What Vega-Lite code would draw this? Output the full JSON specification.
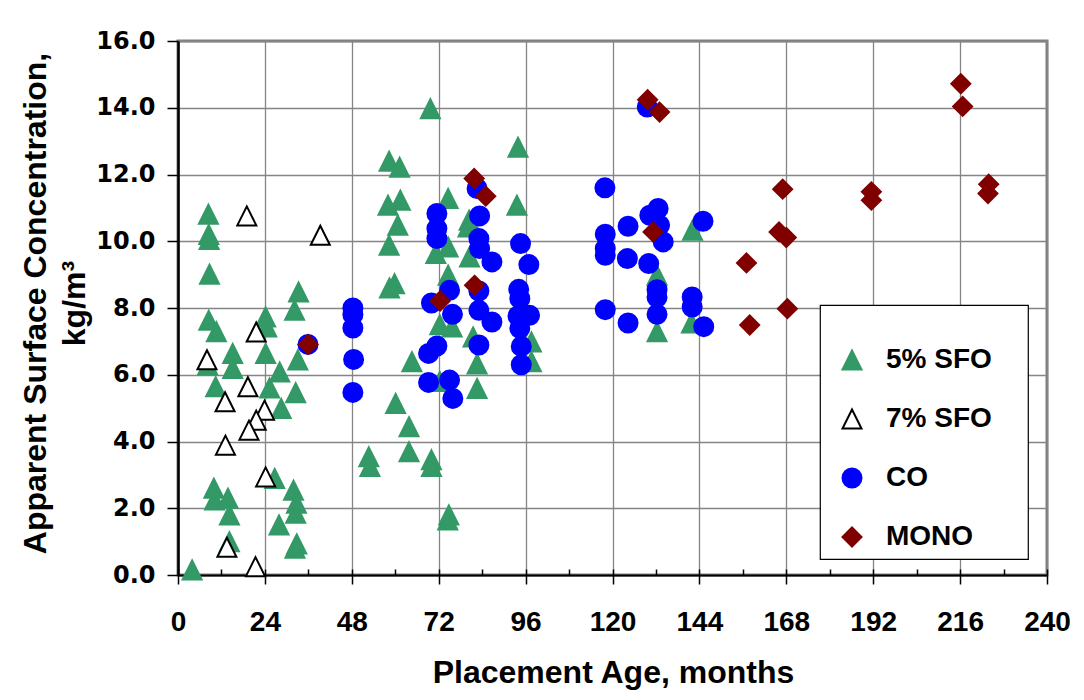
{
  "$schema": "https://vega.github.io/schema/vega-lite/v6.json",
  "width": 869,
  "height": 534,
  "autosize": {"type": "none"},
  "padding": {"left": 178, "top": 41, "right": 37, "bottom": 125},
  "background": "white",
  "data": {
    "values": [
      {"Series": "5% SFO", "Age": 3.9, "Conc": 0.15},
      {"Series": "5% SFO", "Age": 8.4, "Conc": 10.81},
      {"Series": "5% SFO", "Age": 8.5, "Conc": 10.2},
      {"Series": "5% SFO", "Age": 8.6, "Conc": 10.05},
      {"Series": "5% SFO", "Age": 8.7, "Conc": 9.01},
      {"Series": "5% SFO", "Age": 8.5, "Conc": 7.63},
      {"Series": "5% SFO", "Age": 10.6, "Conc": 7.29},
      {"Series": "5% SFO", "Age": 8.2, "Conc": 6.29},
      {"Series": "5% SFO", "Age": 10.4, "Conc": 5.64},
      {"Series": "5% SFO", "Age": 9.9, "Conc": 2.6},
      {"Series": "5% SFO", "Age": 10.1, "Conc": 2.25},
      {"Series": "5% SFO", "Age": 13.8, "Conc": 2.3},
      {"Series": "5% SFO", "Age": 14.2, "Conc": 1.8},
      {"Series": "5% SFO", "Age": 14.2, "Conc": 1.0},
      {"Series": "5% SFO", "Age": 15.1, "Conc": 6.64},
      {"Series": "5% SFO", "Age": 15.1, "Conc": 6.19},
      {"Series": "5% SFO", "Age": 24.2, "Conc": 7.73},
      {"Series": "5% SFO", "Age": 24.5, "Conc": 7.43},
      {"Series": "5% SFO", "Age": 24.2, "Conc": 6.64},
      {"Series": "5% SFO", "Age": 28.1, "Conc": 6.08},
      {"Series": "5% SFO", "Age": 25.3, "Conc": 5.6},
      {"Series": "5% SFO", "Age": 28.5, "Conc": 4.99},
      {"Series": "5% SFO", "Age": 32.5, "Conc": 5.46},
      {"Series": "5% SFO", "Age": 26.7, "Conc": 2.89},
      {"Series": "5% SFO", "Age": 31.9, "Conc": 2.54},
      {"Series": "5% SFO", "Age": 32.7, "Conc": 2.15},
      {"Series": "5% SFO", "Age": 32.5, "Conc": 1.85},
      {"Series": "5% SFO", "Age": 27.9, "Conc": 1.5},
      {"Series": "5% SFO", "Age": 32.8, "Conc": 0.93},
      {"Series": "5% SFO", "Age": 32.3, "Conc": 0.8},
      {"Series": "5% SFO", "Age": 33.3, "Conc": 8.48},
      {"Series": "5% SFO", "Age": 32.2, "Conc": 7.93},
      {"Series": "5% SFO", "Age": 33.1, "Conc": 6.44},
      {"Series": "5% SFO", "Age": 52.7, "Conc": 3.54},
      {"Series": "5% SFO", "Age": 53.0, "Conc": 3.25},
      {"Series": "5% SFO", "Age": 58.3, "Conc": 12.4},
      {"Series": "5% SFO", "Age": 61.2, "Conc": 12.22},
      {"Series": "5% SFO", "Age": 58.0, "Conc": 11.08},
      {"Series": "5% SFO", "Age": 61.4, "Conc": 11.23},
      {"Series": "5% SFO", "Age": 60.7, "Conc": 10.48},
      {"Series": "5% SFO", "Age": 58.3, "Conc": 9.88},
      {"Series": "5% SFO", "Age": 59.8, "Conc": 8.73},
      {"Series": "5% SFO", "Age": 58.4, "Conc": 8.6},
      {"Series": "5% SFO", "Age": 60.1, "Conc": 5.14},
      {"Series": "5% SFO", "Age": 63.8, "Conc": 4.44},
      {"Series": "5% SFO", "Age": 63.8, "Conc": 3.69},
      {"Series": "5% SFO", "Age": 64.6, "Conc": 6.39},
      {"Series": "5% SFO", "Age": 69.7, "Conc": 13.97},
      {"Series": "5% SFO", "Age": 70.0, "Conc": 3.45},
      {"Series": "5% SFO", "Age": 70.0, "Conc": 3.25},
      {"Series": "5% SFO", "Age": 71.2, "Conc": 9.63},
      {"Series": "5% SFO", "Age": 72.3, "Conc": 7.5},
      {"Series": "5% SFO", "Age": 72.3, "Conc": 5.8},
      {"Series": "5% SFO", "Age": 74.6, "Conc": 11.28},
      {"Series": "5% SFO", "Age": 74.6, "Conc": 9.83},
      {"Series": "5% SFO", "Age": 74.6, "Conc": 8.98},
      {"Series": "5% SFO", "Age": 75.7, "Conc": 7.43},
      {"Series": "5% SFO", "Age": 74.8, "Conc": 1.8},
      {"Series": "5% SFO", "Age": 74.5, "Conc": 1.65},
      {"Series": "5% SFO", "Age": 80.4, "Conc": 10.63},
      {"Series": "5% SFO", "Age": 80.1, "Conc": 10.43},
      {"Series": "5% SFO", "Age": 80.5, "Conc": 9.53},
      {"Series": "5% SFO", "Age": 81.5, "Conc": 7.13},
      {"Series": "5% SFO", "Age": 82.6, "Conc": 6.32},
      {"Series": "5% SFO", "Age": 82.6, "Conc": 5.59},
      {"Series": "5% SFO", "Age": 93.9, "Conc": 12.82},
      {"Series": "5% SFO", "Age": 93.6, "Conc": 11.08},
      {"Series": "5% SFO", "Age": 97.6, "Conc": 6.98},
      {"Series": "5% SFO", "Age": 97.6, "Conc": 6.39},
      {"Series": "5% SFO", "Age": 132.3, "Conc": 8.98},
      {"Series": "5% SFO", "Age": 132.3, "Conc": 7.29},
      {"Series": "5% SFO", "Age": 142.1, "Conc": 10.33},
      {"Series": "5% SFO", "Age": 141.8, "Conc": 7.55},
      {"Series": "7% SFO", "Age": 19.0, "Conc": 10.76},
      {"Series": "7% SFO", "Age": 39.3, "Conc": 10.18},
      {"Series": "7% SFO", "Age": 21.6, "Conc": 7.28},
      {"Series": "7% SFO", "Age": 8.0, "Conc": 6.45},
      {"Series": "7% SFO", "Age": 19.3, "Conc": 5.64},
      {"Series": "7% SFO", "Age": 13.0, "Conc": 5.19},
      {"Series": "7% SFO", "Age": 23.9, "Conc": 4.94},
      {"Series": "7% SFO", "Age": 21.6, "Conc": 4.64},
      {"Series": "7% SFO", "Age": 19.6, "Conc": 4.34},
      {"Series": "7% SFO", "Age": 13.1, "Conc": 3.89},
      {"Series": "7% SFO", "Age": 24.2, "Conc": 2.94},
      {"Series": "7% SFO", "Age": 13.5, "Conc": 0.83},
      {"Series": "7% SFO", "Age": 21.4, "Conc": 0.25},
      {"Series": "CO", "Age": 35.9, "Conc": 6.91},
      {"Series": "CO", "Age": 48.3, "Conc": 8.0},
      {"Series": "CO", "Age": 48.3, "Conc": 7.8},
      {"Series": "CO", "Age": 48.3, "Conc": 7.4},
      {"Series": "CO", "Age": 48.5, "Conc": 6.46},
      {"Series": "CO", "Age": 48.3, "Conc": 5.47},
      {"Series": "CO", "Age": 69.2, "Conc": 6.64},
      {"Series": "CO", "Age": 71.5, "Conc": 6.86},
      {"Series": "CO", "Age": 69.2, "Conc": 5.77},
      {"Series": "CO", "Age": 75.0, "Conc": 5.84},
      {"Series": "CO", "Age": 75.9, "Conc": 5.29},
      {"Series": "CO", "Age": 71.5, "Conc": 10.83},
      {"Series": "CO", "Age": 71.5, "Conc": 10.38},
      {"Series": "CO", "Age": 71.5, "Conc": 10.08},
      {"Series": "CO", "Age": 70.0, "Conc": 8.15},
      {"Series": "CO", "Age": 75.0, "Conc": 8.53},
      {"Series": "CO", "Age": 75.8, "Conc": 7.81},
      {"Series": "CO", "Age": 82.6, "Conc": 11.58},
      {"Series": "CO", "Age": 83.3, "Conc": 10.76},
      {"Series": "CO", "Age": 83.1, "Conc": 10.08},
      {"Series": "CO", "Age": 83.3, "Conc": 9.78},
      {"Series": "CO", "Age": 83.1, "Conc": 8.51},
      {"Series": "CO", "Age": 83.1, "Conc": 7.93},
      {"Series": "CO", "Age": 83.1, "Conc": 6.89},
      {"Series": "CO", "Age": 86.7, "Conc": 9.38},
      {"Series": "CO", "Age": 86.7, "Conc": 7.58},
      {"Series": "CO", "Age": 94.6, "Conc": 9.93},
      {"Series": "CO", "Age": 96.9, "Conc": 9.3},
      {"Series": "CO", "Age": 94.1, "Conc": 8.56},
      {"Series": "CO", "Age": 94.4, "Conc": 8.28},
      {"Series": "CO", "Age": 93.9, "Conc": 7.76},
      {"Series": "CO", "Age": 97.1, "Conc": 7.78},
      {"Series": "CO", "Age": 94.4, "Conc": 7.39},
      {"Series": "CO", "Age": 94.8, "Conc": 6.85},
      {"Series": "CO", "Age": 94.8, "Conc": 6.3},
      {"Series": "CO", "Age": 117.9, "Conc": 11.6},
      {"Series": "CO", "Age": 118.0, "Conc": 10.21},
      {"Series": "CO", "Age": 118.0, "Conc": 9.78},
      {"Series": "CO", "Age": 118.0, "Conc": 9.58},
      {"Series": "CO", "Age": 118.0, "Conc": 7.95},
      {"Series": "CO", "Age": 124.3, "Conc": 10.45},
      {"Series": "CO", "Age": 124.1, "Conc": 9.48},
      {"Series": "CO", "Age": 124.3, "Conc": 7.55},
      {"Series": "CO", "Age": 129.6, "Conc": 14.02},
      {"Series": "CO", "Age": 130.3, "Conc": 10.78},
      {"Series": "CO", "Age": 132.6, "Conc": 10.98},
      {"Series": "CO", "Age": 133.0, "Conc": 10.48},
      {"Series": "CO", "Age": 134.0, "Conc": 9.98},
      {"Series": "CO", "Age": 130.0, "Conc": 9.33},
      {"Series": "CO", "Age": 132.3, "Conc": 8.55},
      {"Series": "CO", "Age": 132.3, "Conc": 8.32},
      {"Series": "CO", "Age": 132.3, "Conc": 7.81},
      {"Series": "CO", "Age": 145.0, "Conc": 10.6},
      {"Series": "CO", "Age": 142.0, "Conc": 8.33},
      {"Series": "CO", "Age": 142.0, "Conc": 8.03},
      {"Series": "CO", "Age": 145.2, "Conc": 7.44},
      {"Series": "MONO", "Age": 35.9, "Conc": 6.91},
      {"Series": "MONO", "Age": 72.4, "Conc": 8.21},
      {"Series": "MONO", "Age": 81.8, "Conc": 11.88},
      {"Series": "MONO", "Age": 85.0, "Conc": 11.35},
      {"Series": "MONO", "Age": 81.9, "Conc": 8.68},
      {"Series": "MONO", "Age": 129.7, "Conc": 14.24},
      {"Series": "MONO", "Age": 133.0, "Conc": 13.87},
      {"Series": "MONO", "Age": 131.2, "Conc": 10.28},
      {"Series": "MONO", "Age": 157.0, "Conc": 9.35},
      {"Series": "MONO", "Age": 157.9, "Conc": 7.49},
      {"Series": "MONO", "Age": 167.0, "Conc": 11.56},
      {"Series": "MONO", "Age": 166.0, "Conc": 10.28},
      {"Series": "MONO", "Age": 168.0, "Conc": 10.11},
      {"Series": "MONO", "Age": 168.3, "Conc": 7.98},
      {"Series": "MONO", "Age": 191.5, "Conc": 11.48},
      {"Series": "MONO", "Age": 191.5, "Conc": 11.23},
      {"Series": "MONO", "Age": 216.2, "Conc": 14.72},
      {"Series": "MONO", "Age": 216.7, "Conc": 14.04},
      {"Series": "MONO", "Age": 223.9, "Conc": 11.71},
      {"Series": "MONO", "Age": 223.7, "Conc": 11.43}
    ]
  },
  "layer": [
    {
      "mark": {"type": "point", "opacity": 0, "size": 1},
      "encoding": {
        "x": {
          "field": "Age", "type": "quantitative",
          "scale": {"domain": [0, 240], "nice": false, "zero": false},
          "axis": {
            "orient": "bottom",
            "values": [0, 12, 24, 36, 48, 60, 72, 84, 96, 108, 120, 132, 144, 156, 168, 180, 192, 204, 216, 228, 240],
            "labels": false, "grid": false, "domain": false, "title": null,
            "ticks": true, "tickSize": -6, "tickColor": "#000000", "tickWidth": 1.5
          }
        }
      }
    },
    {
      "mark": {"type": "point", "filled": true, "strokeWidth": 2, "opacity": 1, "size": 361},
      "encoding": {
        "x": {
          "field": "Age", "type": "quantitative",
          "scale": {"domain": [0, 240], "nice": false, "zero": false},
          "axis": {
            "orient": "bottom",
            "values": [0, 24, 48, 72, 96, 120, 144, 168, 192, 216, 240],
            "format": "d",
            "grid": true, "gridColor": "#858585", "gridWidth": 1.3,
            "domainColor": "#000000", "domainWidth": 2,
            "tickColor": "#000000", "tickSize": 9, "tickWidth": 1.5,
            "labelFont": "Liberation Sans Narrow, Liberation Sans, Arial",
            "labelFontSize": 28, "labelFontWeight": "bold", "labelColor": "#000000",
            "labelBaseline": "alphabetic", "labelPadding": 46,
            "labelFlush": false, "labelOverlap": false,
            "title": "Placement Age, months",
            "titleFont": "Liberation Sans", "titleFontSize": 32, "titleFontWeight": "bold", "titleColor": "#000000",
            "titleBaseline": "alphabetic", "titleAlign": "center", "titleX": 435, "titleY": 107
          }
        },
        "y": {
          "field": "Conc", "type": "quantitative",
          "scale": {"domain": [0, 16], "nice": false, "zero": false},
          "axis": {
            "values": [0, 2, 4, 6, 8, 10, 12, 14, 16],
            "format": ".1f",
            "grid": true, "gridColor": "#858585", "gridWidth": 1.3,
            "domainColor": "#000000", "domainWidth": 2.5,
            "tickColor": "#000000", "tickSize": 11, "tickWidth": 1.5,
            "labelFont": "DejaVu Sans", "labelFontSize": 24, "labelFontWeight": "bold", "labelColor": "#000000",
            "labelPadding": 12, "labelFlush": false, "labelOverlap": false, "labelBaseline": "middle",
            "title": ["Apparent Surface Concentration,", "kg/m³"],
            "titleFont": "Liberation Sans", "titleFontSize": 32, "titleFontWeight": "bold", "titleColor": "#000000",
            "titleLineHeight": 39, "titleBaseline": "alphabetic", "titleAlign": "center", "titleAngle": -90,
            "titleX": -133, "titleY": 262
          }
        },
        "shape": {
          "field": "Series", "type": "nominal",
          "scale": {
            "domain": ["5% SFO", "7% SFO", "CO", "MONO"],
            "range": ["M0,-1L1,1L-1,1Z", "M0,-1L1,1L-1,1Z", "circle", "M0,-1L1,0L0,1L-1,0Z"]
          },
          "legend": {"title": "xxxxxxxxxxxxxxxx"}
        },
        "fill": {
          "field": "Series", "type": "nominal",
          "scale": {
            "domain": ["5% SFO", "7% SFO", "CO", "MONO"],
            "range": ["#339966", "#ffffff", "#0000ff", "#800000"]
          },
          "legend": {"title": "xxxxxxxxxxxxxxxx"}
        },
        "stroke": {
          "field": "Series", "type": "nominal",
          "scale": {
            "domain": ["5% SFO", "7% SFO", "CO", "MONO"],
            "range": ["#339966", "#000000", "#0000ff", "#800000"]
          },
          "legend": {"title": "xxxxxxxxxxxxxxxx"}
        }
      }
    }
  ],
  "resolve": {"axis": {"x": "independent"}},
  "config": {
    "view": {"stroke": "#808080", "strokeWidth": 3},
    "font": "Liberation Sans",
    "legend": {
      "orient": "none",
      "legendX": 642,
      "legendY": 264,
      "padding": 8,
      "strokeColor": "#000000",
      "strokeWidth": 1.2,
      "fillColor": "#ffffff",
      "symbolSize": 361,
      "symbolStrokeWidth": 2,
      "symbolOffset": 10,
      "titleFont": "Liberation Sans",
      "titleFontSize": 24,
      "titleFontWeight": "normal",
      "titleColor": "#ffffff",
      "titlePadding": 9,
      "titleLimit": 400,
      "labelFont": "Liberation Sans",
      "labelFontSize": 28,
      "labelFontWeight": "bold",
      "labelColor": "#000000",
      "labelOffset": 20,
      "rowPadding": 31,
      "labelLimit": 300
    }
  }
}
